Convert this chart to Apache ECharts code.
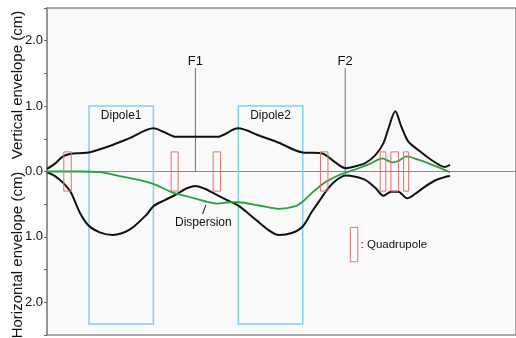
<!DOCTYPE html>
<html>
<head>
<meta charset="utf-8">
<script src="https://cdn.jsdelivr.net/npm/echarts@6/dist/echarts.min.js"></script>
<style>
  html, body { margin: 0; padding: 0; background: #fff; }
  #chart { width: 516px; height: 338px; }
</style>
</head>
<body>
<div id="chart"></div>
<script>
// Position along the beam line (m) and envelopes (cm).
// Vertical envelope is plotted upward, horizontal envelope downward.
const verticalS = [0, 0.171, 0.341, 0.512, 0.704, 0.896, 1.343, 1.770, 2.281, 2.516, 2.772, 3.156, 3.646, 4.094, 4.542, 4.968, 5.480, 5.885, 6.141, 6.397, 6.610, 6.823, 7.036, 7.207, 7.313, 7.463, 7.591, 7.740, 7.953, 8.230, 8.529, 8.635];
const verticalEnv = [0.04, 0.12, 0.23, 0.27, 0.28, 0.29, 0.39, 0.51, 0.66, 0.60, 0.53, 0.53, 0.53, 0.66, 0.55, 0.44, 0.29, 0.28, 0.16, 0.05, 0.08, 0.13, 0.25, 0.43, 0.65, 0.92, 0.69, 0.46, 0.33, 0.18, 0.07, 0.10];

const horizontalS = [0, 0.171, 0.341, 0.512, 0.704, 0.896, 1.130, 1.407, 1.770, 2.132, 2.281, 2.516, 2.772, 2.985, 3.177, 3.369, 3.539, 3.838, 4.115, 4.478, 4.755, 4.968, 5.245, 5.480, 5.672, 5.864, 6.034, 6.205, 6.397, 6.610, 6.823, 7.036, 7.207, 7.377, 7.527, 7.719, 7.910, 8.102, 8.337, 8.550, 8.635];
const horizontalEnv = [-0.01, -0.07, -0.17, -0.32, -0.63, -0.83, -0.93, -0.97, -0.89, -0.66, -0.53, -0.44, -0.35, -0.26, -0.22, -0.26, -0.32, -0.43, -0.53, -0.74, -0.90, -0.97, -0.94, -0.84, -0.62, -0.42, -0.25, -0.13, -0.06, -0.08, -0.13, -0.25, -0.37, -0.31, -0.31, -0.41, -0.33, -0.23, -0.13, -0.08, -0.07];

const dispersionS = [0, 0.704, 1.130, 1.620, 1.983, 2.281, 2.687, 3.049, 3.412, 3.646, 3.902, 4.115, 4.542, 4.968, 5.330, 5.480, 5.672, 5.821, 5.970, 6.183, 6.397, 6.674, 6.930, 7.186, 7.399, 7.527, 7.697, 7.953, 8.294, 8.635];
const dispersion = [0, 0, -0.01, -0.08, -0.13, -0.19, -0.32, -0.39, -0.46, -0.49, -0.47, -0.47, -0.52, -0.57, -0.53, -0.46, -0.33, -0.24, -0.16, -0.08, -0.02, 0.05, 0.12, 0.20, 0.14, 0.16, 0.23, 0.18, 0.09, -0.01];

// Magnet positions along the line: [entrance, exit] (m)
const dipoleNames = ['Dipole1', 'Dipole2'];
const dipoleSpans = [[0.90, 2.28], [4.10, 5.48]];
const dipoleTop = 1.0;
const dipoleBottom = -2.33;

const quadSpans = [[0.36, 0.52], [2.66, 2.81], [3.56, 3.72], [5.86, 6.02], [7.14, 7.26], [7.37, 7.53], [7.64, 7.75]];
const quadHalfHeight = 0.3;

// Focal points
const focusNames = ['F1', 'F2'];
const focusS = [3.18, 6.39];
const focusMarkerHeight = 1.58;

// Vertical axis ticks (cm); labels show the magnitude
const yTicks = [-2, -1, 0, 1, 2];

const pairs = (xs, ys) => xs.map((x, i) => [x, ys[i]]);
const FONT = '"Liberation Sans", Arial, Helvetica, sans-serif';

const chart = echarts.init(document.getElementById('chart'), null, { renderer: 'canvas' });

function textEl(x, y, text, size, align) {
  return {
    type: 'text', x: x, y: y, silent: true,
    style: {
      text: text, fill: '#111', fontSize: size, fontFamily: FONT,
      align: align || 'center', verticalAlign: 'middle',
      textAlign: align || 'center', textVerticalAlign: 'middle'
    }
  };
}

const option = {
  animation: false,
  backgroundColor: '#fff',
  grid: {
    left: 47, top: 8, bottom: 3, right: -2,
    show: true, backgroundColor: '#f9f9f9',
    borderColor: '#8c8c8c', borderWidth: 1.5
  },
  xAxis: {
    type: 'value', min: 0, max: 10.05,
    axisLine: { show: true, onZero: true, lineStyle: { color: '#8a8a8a', width: 1 } },
    axisTick: { show: false }, axisLabel: { show: false }, splitLine: { show: false }
  },
  yAxis: {
    type: 'value', min: -2.5, max: 2.5, interval: 0.5,
    axisLine: { show: true, lineStyle: { color: '#8c8c8c', width: 1.5 } },
    axisTick: { show: true, inside: false, length: 3, lineStyle: { color: '#666', width: 1 } },
    axisLabel: {
      margin: 4, color: '#111', fontSize: 13, fontFamily: FONT,
      formatter: v => yTicks.indexOf(v) >= 0 ? Math.abs(v).toFixed(1) : ''
    },
    splitLine: { show: false }
  },
  graphic: [
    {
      type: 'text', x: 18, y: 85, rotation: Math.PI / 2,
      style: { text: 'Vertical envelope (cm)', fill: '#111', fontSize: 15, fontFamily: FONT,
               align: 'center', verticalAlign: 'middle', textAlign: 'center', textVerticalAlign: 'middle' }
    },
    {
      type: 'text', x: 18, y: 255, rotation: Math.PI / 2,
      style: { text: 'Horizontal envelope (cm)', fill: '#111', fontSize: 15, fontFamily: FONT,
               align: 'center', verticalAlign: 'middle', textAlign: 'center', textVerticalAlign: 'middle' }
    }
  ],
  series: [
    // dipole magnets
    {
      type: 'custom', z: 2, silent: true,
      data: dipoleSpans.map((d, i) => [d[0], d[1], i]),
      renderItem: (params, api) => {
        const p0 = api.coord([api.value(0), dipoleTop]);
        const p1 = api.coord([api.value(1), dipoleBottom]);
        const mid = api.coord([(api.value(0) + api.value(1)) / 2, 0.85]);
        return {
          type: 'group',
          children: [
            { type: 'rect', shape: { x: p0[0], y: p0[1], width: p1[0] - p0[0], height: p1[1] - p0[1] },
              style: { fill: 'none', stroke: '#86cdee', lineWidth: 1.5 } },
            textEl(mid[0], mid[1], dipoleNames[api.value(2)], 12)
          ]
        };
      }
    },
    // focal point markers
    {
      type: 'custom', z: 2, silent: true,
      data: focusS.map((s, i) => [s, i]),
      renderItem: (params, api) => {
        const b = api.coord([api.value(0), 0]);
        const t = api.coord([api.value(0), focusMarkerHeight]);
        const lbl = api.coord([api.value(0), 1.69]);
        return {
          type: 'group',
          children: [
            { type: 'line', shape: { x1: b[0], y1: b[1], x2: t[0], y2: t[1] },
              style: { stroke: '#6f6f6f', lineWidth: 1 } },
            textEl(lbl[0], lbl[1], focusNames[api.value(1)], 13)
          ]
        };
      }
    },
    // envelopes
    {
      type: 'line', z: 3, data: pairs(verticalS, verticalEnv), showSymbol: false, smooth: 0.3,
      lineStyle: { color: '#111', width: 2 }, silent: true
    },
    {
      type: 'line', z: 3, data: pairs(horizontalS, horizontalEnv), showSymbol: false, smooth: 0.3,
      lineStyle: { color: '#111', width: 2 }, silent: true
    },
    {
      type: 'line', z: 4, data: pairs(dispersionS, dispersion), showSymbol: false, smooth: 0.3,
      lineStyle: { color: '#27a13c', width: 1.8 }, silent: true
    },
    // quadrupole magnets
    {
      type: 'custom', z: 5, silent: true,
      data: quadSpans,
      renderItem: (params, api) => {
        const p0 = api.coord([api.value(0), quadHalfHeight]);
        const p1 = api.coord([api.value(1), -quadHalfHeight]);
        return { type: 'rect', shape: { x: p0[0], y: p0[1], width: p1[0] - p0[0], height: p1[1] - p0[1] },
                 style: { fill: 'none', stroke: '#e07070', lineWidth: 1 } };
      }
    },
    // annotations: dispersion label and quadrupole key
    {
      type: 'custom', z: 6, silent: true,
      data: [[0]],
      renderItem: (params, api) => {
        const l0 = api.coord([3.405, -0.51]);
        const l1 = api.coord([3.335, -0.65]);
        const dl = api.coord([3.35, -0.78]);
        const k0 = api.coord([6.50, -0.855]);
        const k1 = api.coord([6.66, -1.38]);
        const kt = api.coord([6.72, -1.12]);
        return {
          type: 'group',
          children: [
            { type: 'line', shape: { x1: l0[0], y1: l0[1], x2: l1[0], y2: l1[1] },
              style: { stroke: '#111', lineWidth: 1 } },
            textEl(dl[0], dl[1], 'Dispersion', 12),
            { type: 'rect', shape: { x: k0[0], y: k0[1], width: k1[0] - k0[0], height: k1[1] - k0[1] },
              style: { fill: 'none', stroke: '#e07070', lineWidth: 1 } },
            textEl(kt[0], kt[1], ': Quadrupole', 11.5, 'left')
          ]
        };
      }
    }
  ]
};

chart.setOption(option);
</script>
</body>
</html>
